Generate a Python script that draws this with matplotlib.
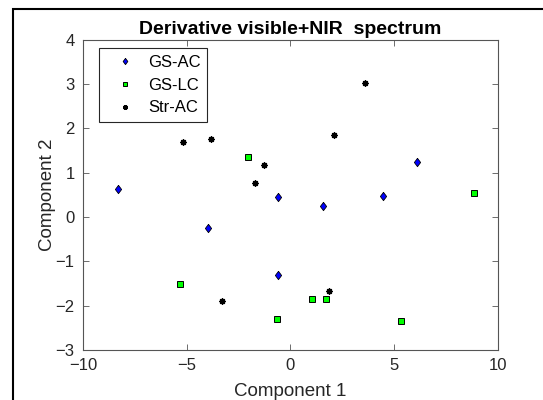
"""
Score plot: derivative visible+NIR spectrum, first two components.
"""
import matplotlib
matplotlib.use('Agg')
import matplotlib.pyplot as plt
from matplotlib.patches import Rectangle

# ============================================================
# Data
# ============================================================
gs_ac_x = [-8.31, -3.97, -0.59, -0.59, 1.58, 4.45, 6.11]
gs_ac_y = [0.62, -0.25, 0.45, -1.32, 0.25, 0.47, 1.23]

gs_lc_x = [-5.32, -2.03, -0.66, 1.03, 1.74, 5.34, 8.86]
gs_lc_y = [-1.52, 1.35, -2.30, -1.86, -1.86, -2.34, 0.53]

str_ac_x = [-5.19, -3.82, -1.25, -1.69, -3.28, 1.88, 2.09, 3.61]
str_ac_y = [1.69, 1.76, 1.17, 0.77, -1.89, -1.66, 1.84, 3.03]

x_ticks = [-10, -5, 0, 5, 10]
y_ticks = [-3, -2, -1, 0, 1, 2, 3, 4]

# ============================================================
# Style
# ============================================================
plt.rcParams.update({
    'font.family': ['Liberation Sans', 'DejaVu Sans'],
    'axes.unicode_minus': True,
})
AXIS_COLOR = '#262626'
# MATLAB-like diamond (a bit wider than matplotlib's 'd')
DIAMOND = [(0, 1), (0.75, 0), (0, -1), (-0.75, 0), (0, 1)]

W, H = 543, 400
fig = plt.figure(figsize=(W / 100, H / 100), dpi=100)
ax = fig.add_axes([83 / W, (H - 350) / H, (497.7 - 83) / W, (350 - 39.5) / H])

ax.plot(gs_ac_x, gs_ac_y, linestyle='none', marker=DIAMOND, ms=6,
        mfc='#0000FF', mec='black', mew=0.6, label='GS-AC')
ax.plot(gs_lc_x, gs_lc_y, linestyle='none', marker='s', ms=4,
        mfc='#00FF00', mec='black', mew=0.7, label='GS-LC')
ax.plot(str_ac_x, str_ac_y, linestyle='none', marker=(8, 2, 0), ms=4.5,
        color='black', mew=1.0, label='Str-AC')

ax.set_xlim(-10, 10)
ax.set_ylim(-3, 4)
ax.set_xticks(x_ticks)
ax.set_yticks(y_ticks)
ax.tick_params(direction='in', top=True, right=True, length=4, width=0.6,
               color='#555555', labelcolor=AXIS_COLOR, labelsize=12)
ax.tick_params(axis='x', pad=5.5)
ax.tick_params(axis='y', pad=6)
for sp in ax.spines.values():
    sp.set_color('#555555')
    sp.set_linewidth(0.8)

ax.set_title('Derivative visible+NIR  spectrum', fontsize=14,
             fontweight='bold', pad=4)
ax.set_xlabel('Component 1', fontsize=13.5, color=AXIS_COLOR)
ax.set_ylabel('Component 2', fontsize=13.5, color=AXIS_COLOR)
ax.xaxis.set_label_coords(0.5, -0.106)
ax.yaxis.set_label_coords(-0.065, 0.5)

leg = ax.legend(loc='upper left', bbox_to_anchor=(0.0386, 0.9726),
                borderaxespad=0, fontsize=12, fancybox=False,
                edgecolor=AXIS_COLOR, framealpha=1, labelspacing=0.47,
                handlelength=2.3, handletextpad=0.25, borderpad=0.4,
                markerscale=0.75)
leg.get_frame().set_linewidth(0.8)

# Outer figure frame (only left and top edges fall inside the crop)
fig.patches.append(Rectangle((13 / W, -0.05), 1.0, (1 - 9 / H) + 0.05,
                             transform=fig.transFigure, fill=False,
                             edgecolor='black', linewidth=1.5))

plt.savefig('out.png', dpi=100)
plt.close()
